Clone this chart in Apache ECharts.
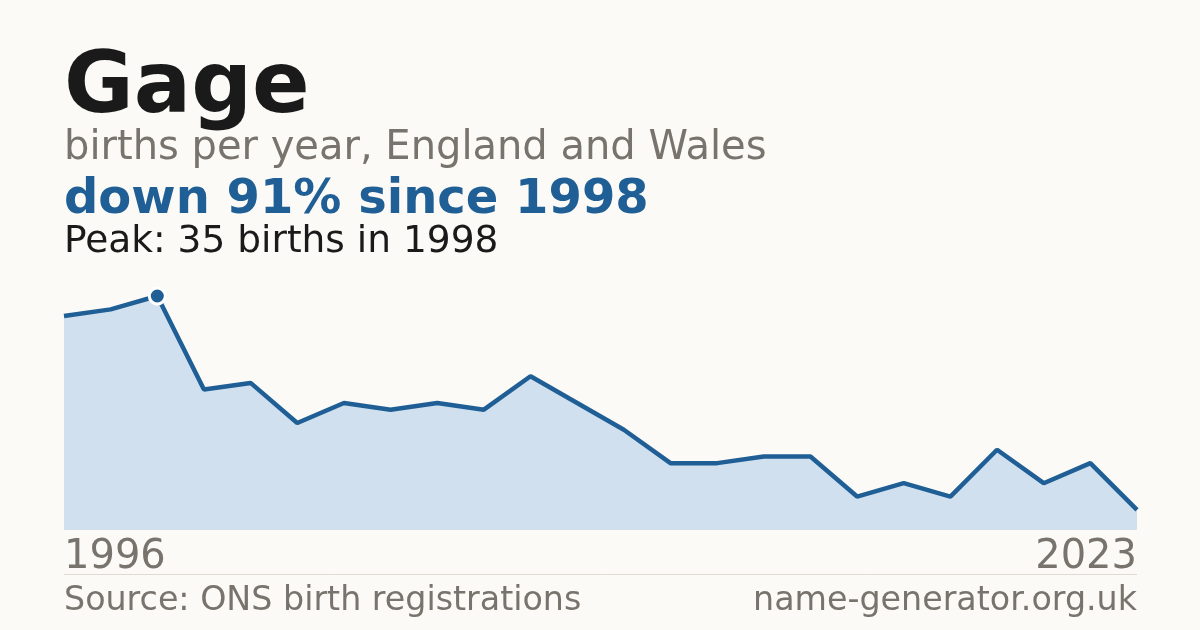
<!DOCTYPE html>
<html>
<head>
<meta charset="utf-8">
<style>
  html, body { margin: 0; padding: 0; background: #fbfaf6; }
  #main { width: 1200px; height: 630px; }
</style>
<script src="https://cdn.jsdelivr.net/npm/echarts@6/dist/echarts.min.js"></script>
</head>
<body>
<div id="main"></div>
<script>
// years that have a count (some years are missing from the series)
let years = [1996,1997,1998,1999,2000,2001,2002,2003,2004,2005,2006,2007,
  2008,2009,2010,2011,2013,2014,2016,2017,2019,2021,2022,2023]
let births = [32,33,35,21,22,16,19,18,19,18,23,19,15,10,10,11,11,5,7,5,12,7,10,3]

let nameTitle = "Gage"
let subTitle = "births per year, England and Wales"
let sourceText = "Source: ONS birth registrations"
let siteText = "name-generator.org.uk"

let peak = Math.max(...births)
let peakIdx = births.indexOf(peak)
let last = births[births.length - 1]
let change = Math.round((peak - last) / peak * 100)

const FONT = "'DejaVu Sans', sans-serif"
const BLUE = "#1f5f96"
const GREY = "#78746d"

var myChart = echarts.init(document.getElementById('main'))

var option = {
  backgroundColor: '#fbfaf6',
  animation: false,
  grid: { left: 64, right: 63, top: 296, bottom: 100 },
  xAxis: {
    type: 'category',
    data: years.map(String),
    boundaryGap: false,
    axisLine: { show: false },
    axisTick: { show: false },
    splitLine: { show: false },
    axisLabel: {
      interval: (i) => i === 0 || i === years.length - 1,
      margin: 8,
      fontFamily: FONT,
      fontSize: 40,
      color: GREY,
      alignMinLabel: 'left',
      alignMaxLabel: 'right'
    }
  },
  yAxis: {
    type: 'value',
    min: 0,
    max: peak,
    show: false,
    splitLine: { show: false }
  },
  series: [
    {
      type: 'line',
      data: births,
      symbol: 'none',
      lineStyle: { color: BLUE, width: 4.5 },
      areaStyle: { color: '#d0e0ef', opacity: 1 },
      z: 2
    },
    {
      type: 'scatter',
      data: [[peakIdx, peak]],
      symbol: 'circle',
      symbolSize: 16,
      itemStyle: { color: BLUE, opacity: 1, borderColor: '#ffffff', borderWidth: 3 },
      z: 5
    }
  ],
  graphic: [
    { type: 'text', left: 64, top: 47,
      style: { text: nameTitle, font: "bold 85px " + FONT, fill: '#1a1a1a' } },
    { type: 'text', left: 64, top: 129,
      style: { text: subTitle, font: "40px " + FONT, fill: GREY } },
    { type: 'text', left: 64, top: 177,
      style: { text: "down " + change + "% since " + years[peakIdx], font: "bold 48px " + FONT, fill: BLUE } },
    { type: 'text', left: 64, top: 223,
      style: { text: "Peak: " + peak + " births in " + years[peakIdx], font: "37.5px " + FONT, fill: '#1a1a1a' } },
    { type: 'line', shape: { x1: 64, y1: 574.5, x2: 1137, y2: 574.5 },
      style: { stroke: '#dedad2', lineWidth: 1 } },
    { type: 'text', left: 64, top: 585,
      style: { text: sourceText, font: "33.3px " + FONT, fill: GREY } },
    { type: 'text', right: 63, top: 585,
      style: { text: siteText, font: "33.3px " + FONT, fill: GREY } }
  ]
}

myChart.setOption(option)
</script>
</body>
</html>
